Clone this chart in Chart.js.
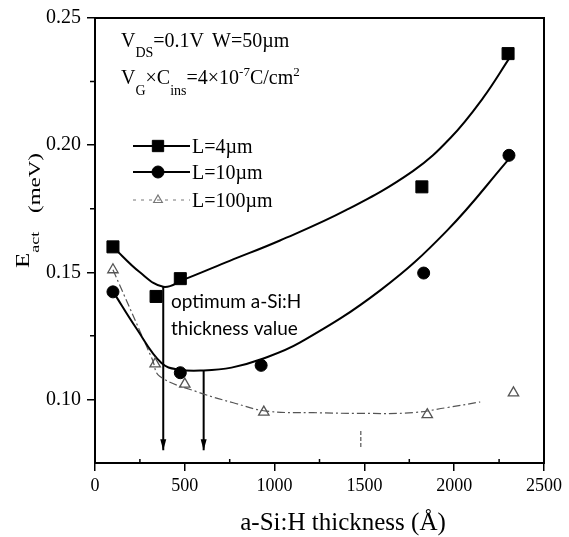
<!DOCTYPE html>
<html>
<head>
<meta charset="utf-8">
<script src="https://cdn.jsdelivr.net/npm/chart.js@4.4.1/dist/chart.umd.min.js"></script>
<style>
  html, body { margin: 0; padding: 0; background: #fff; }
</style>
</head>
<body>
<canvas id="eactChart" width="569" height="537"></canvas>
<script>
// measured points, thickness in angstrom, activation energy in meV
const thick4 = [100, 340, 475, 1820, 2300];
const eact4 = [0.160, 0.1405, 0.1475, 0.1836, 0.236];
const thick10 = [100, 475, 925, 1830, 2305];
const eact10 = [0.1423, 0.1105, 0.1134, 0.1497, 0.196];
const thick100 = [100, 335, 500, 940, 1850, 2330];
const eact100 = [0.151, 0.114, 0.106, 0.095, 0.094, 0.1026];

// fitted curves (knots along each guide line)
const fitX4 = [100, 250, 380, 490, 750, 1030, 1400, 1770, 1980, 2160, 2310];
const fitY4 = [0.160, 0.1500, 0.1443, 0.1470, 0.1545, 0.1625, 0.1745, 0.1898, 0.2029, 0.2185, 0.2345];
const fitX10 = [100, 230, 370, 470, 605, 760, 925, 1140, 1590, 1960, 2310];
const fitY10 = [0.1425, 0.1280, 0.1143, 0.1117, 0.1114, 0.1125, 0.1158, 0.1223, 0.1430, 0.1664, 0.1950];
const fitX100 = [100, 320, 360, 585, 770, 955, 1215, 1490, 1770, 1960, 2145];
const fitY100 = [0.151, 0.1156, 0.1091, 0.1026, 0.0987, 0.0954, 0.0948, 0.0945, 0.0948, 0.0968, 0.0990];

// optimum thickness markers
const optX = [380, 605];
const optTop = [0.1443, 0.1114];
const optBottom = 0.0800;
const minX100 = 1480;
const minTop100 = 0.0876;
const minBottom100 = 0.0805;

// axes
const xTicks = [0, 500, 1000, 1500, 2000, 2500];
const xMinor = [250, 750, 1250, 1750, 2250];
const yTicks = [0.10, 0.15, 0.20, 0.25];
const yMinor = [0.125, 0.175, 0.225];

const SERIF = '"Liberation Serif", "Times New Roman", serif';
const pts = (xs, ys) => xs.map((x, i) => ({ x: x, y: ys[i] }));

function runs(ctx, x, y, parts) {
  for (const [t, size, dy] of parts) {
    ctx.font = size + 'px ' + SERIF;
    ctx.fillText(t, x, y + dy);
    x += ctx.measureText(t).width;
  }
  return x;
}

function legendRow(ctx, y, style, label, dashed) {
  ctx.save();
  ctx.strokeStyle = dashed ? '#777' : '#000';
  ctx.fillStyle = dashed ? 'rgba(0,0,0,0)' : '#000';
  ctx.lineWidth = dashed ? 1 : 2;
  ctx.setLineDash(dashed ? [3, 5] : []);
  ctx.beginPath();
  ctx.moveTo(133, y);
  ctx.lineTo(190, y);
  ctx.stroke();
  ctx.setLineDash([]);
  ctx.lineWidth = dashed ? 1.2 : 1;
  Chart.helpers.drawPoint(ctx, style, 158, y);
  ctx.fillStyle = '#000';
  ctx.font = '20px ' + SERIF;
  ctx.fillText(label, 192, y + 7);
  ctx.restore();
}

const decor = {
  id: 'decor',
  afterDraw(chart) {
    const ctx = chart.ctx;
    const a = chart.chartArea;
    const xs = chart.scales.x, ys = chart.scales.y;
    ctx.save();

    // frame
    ctx.strokeStyle = '#000';
    ctx.lineWidth = 2;
    ctx.strokeRect(a.left, a.top, a.right - a.left, a.bottom - a.top);

    // minor ticks
    ctx.lineWidth = 1.5;
    ctx.beginPath();
    xMinor.forEach(v => {
      const px = xs.getPixelForValue(v);
      ctx.moveTo(px, a.bottom);
      ctx.lineTo(px, a.bottom - 4);
    });
    yMinor.forEach(v => {
      const py = ys.getPixelForValue(v);
      ctx.moveTo(a.left, py);
      ctx.lineTo(a.left - 5, py);
    });
    ctx.stroke();

    // arrow heads on the optimum markers
    ctx.fillStyle = '#000';
    optX.forEach(v => {
      const px = xs.getPixelForValue(v);
      const py = ys.getPixelForValue(optBottom);
      ctx.beginPath();
      ctx.moveTo(px - 3, py - 11);
      ctx.lineTo(px + 3, py - 11);
      ctx.lineTo(px, py);
      ctx.closePath();
      ctx.fill();
    });

    // conditions
    ctx.fillStyle = '#000';
    ctx.textBaseline = 'alphabetic';
    ctx.textAlign = 'left';
    runs(ctx, 121, 47, [['V', 20, 0], ['DS', 14, 10], ['=0.1V', 20, 0]]);
    runs(ctx, 212, 47, [['W=50\u00b5m', 20, 0]]);
    runs(ctx, 121, 84, [['V', 20, 0], ['G', 14, 11], ['\u00d7C', 20, 0], ['ins', 14, 11],
      ['=4\u00d710', 20, 0], ['-7', 13, -8], ['C/cm', 20, 0], ['2', 13, -8]]);

    // legend
    legendRow(ctx, 146, { pointStyle: 'rect', radius: 8, rotation: 0, borderWidth: 1 }, 'L=4\u00b5m', false);
    legendRow(ctx, 172, { pointStyle: 'circle', radius: 6, rotation: 0, borderWidth: 1 }, 'L=10\u00b5m', false);
    legendRow(ctx, 200, { pointStyle: 'triangle', radius: 5, rotation: 0, borderWidth: 1.2 }, 'L=100\u00b5m', true);

    // annotation
    ctx.font = '19px Lato, "Open Sans", sans-serif';
    ctx.fillText('optimum a-Si:H', 171, 308);
    ctx.fillText('thickness value', 171, 335);

    // x title
    ctx.font = '25px ' + SERIF;
    ctx.textAlign = 'center';
    ctx.fillText('a-Si:H thickness (\u00c5)', 343, 530);

    // y title
    ctx.textAlign = 'left';
    ctx.translate(29, 268);
    ctx.rotate(-Math.PI / 2);
    ctx.scale(1, 0.75);
    runs(ctx, 0, 0, [['E', 25, 0], ['act', 18, 13]]);
    runs(ctx, 55, 14, [['(meV)', 23, 0]]);

    ctx.restore();
  }
};

const fitLine = (xs, ys, color, width, dash) => ({
  data: pts(xs, ys),
  borderColor: color,
  borderWidth: width,
  borderDash: dash,
  pointRadius: 0,
  tension: 0.4,
  order: 2
});

const ctx = document.getElementById('eactChart').getContext('2d');
const eactChart = new Chart(ctx, {
  type: 'line',
  data: {
    datasets: [
      {
        label: 'L=4\u00b5m',
        data: pts(thick4, eact4),
        showLine: false,
        pointStyle: 'rect',
        pointRadius: 8.5,
        pointBackgroundColor: '#000',
        pointBorderColor: '#000',
        order: 1
      },
      {
        label: 'L=10\u00b5m',
        data: pts(thick10, eact10),
        showLine: false,
        pointStyle: 'circle',
        pointRadius: 6,
        pointBackgroundColor: '#000',
        pointBorderColor: '#000',
        order: 1
      },
      {
        label: 'L=100\u00b5m',
        data: pts(thick100, eact100),
        showLine: false,
        pointStyle: 'triangle',
        pointRadius: 6,
        pointBorderWidth: 1.3,
        pointBackgroundColor: 'rgba(0,0,0,0)',
        pointBorderColor: '#555',
        order: 1
      },
      fitLine(fitX4, fitY4, '#000', 2, []),
      fitLine(fitX10, fitY10, '#000', 2, []),
      fitLine(fitX100, fitY100, '#555', 1.2, [8, 3, 2, 3]),
      {
        data: [{ x: optX[0], y: optTop[0] }, { x: optX[0], y: optBottom }],
        borderColor: '#000',
        borderWidth: 2,
        pointRadius: 0,
        order: 3
      },
      {
        data: [{ x: optX[1], y: optTop[1] }, { x: optX[1], y: optBottom }],
        borderColor: '#000',
        borderWidth: 2,
        pointRadius: 0,
        order: 3
      },
      {
        data: [{ x: minX100, y: minTop100 }, { x: minX100, y: minBottom100 }],
        borderColor: '#555',
        borderWidth: 1.2,
        borderDash: [4, 2],
        pointRadius: 0,
        order: 3
      }
    ]
  },
  options: {
    responsive: false,
    animation: false,
    layout: { padding: { top: 15, right: 25, left: 0, bottom: 0 } },
    plugins: {
      legend: { display: false },
      tooltip: { enabled: false }
    },
    scales: {
      x: {
        type: 'linear',
        min: 0,
        max: 2500,
        afterBuildTicks: s => { s.ticks = xTicks.map(v => ({ value: v })); },
        afterFit: s => { s.height = 74; },
        ticks: {
          color: '#000',
          padding: 4,
          font: { family: SERIF, size: 18 },
          callback: v => String(v)
        },
        grid: { drawOnChartArea: false, drawTicks: true, tickLength: 8, color: '#000', lineWidth: 1.5 },
        border: { display: true, color: '#000', width: 2 }
      },
      y: {
        type: 'linear',
        min: 0.075,
        max: 0.25,
        afterBuildTicks: s => { s.ticks = yTicks.map(v => ({ value: v })); },
        afterFit: s => { s.width = 95; },
        ticks: {
          color: '#000',
          padding: 6,
          font: { family: SERIF, size: 20 },
          callback: v => v.toFixed(2)
        },
        grid: { drawOnChartArea: false, drawTicks: true, tickLength: 8, color: '#000', lineWidth: 1.5 },
        border: { display: true, color: '#000', width: 2 }
      }
    }
  },
  plugins: [decor]
});
</script>
</body>
</html>
